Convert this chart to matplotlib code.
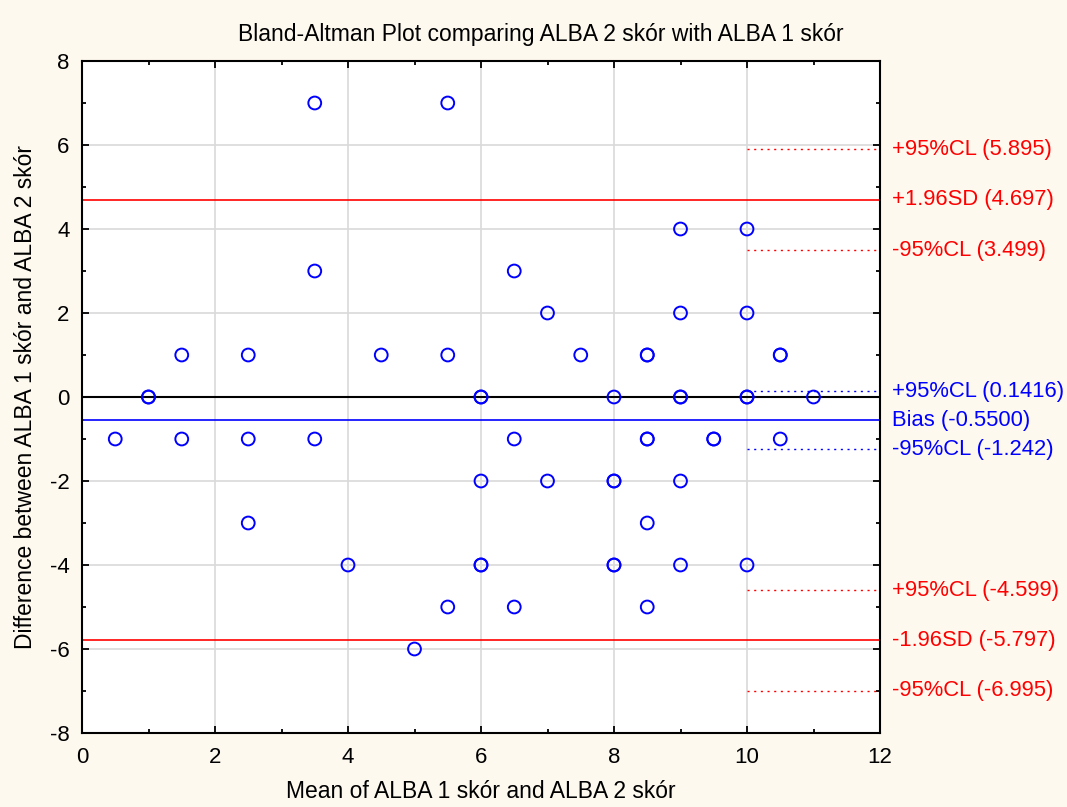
import numpy as np
import matplotlib
matplotlib.use('Agg')
from matplotlib import pyplot as plt
from matplotlib.ticker import MultipleLocator

# data (repeated points are drawn twice, like in the original)
mean_vals = [0.5, 1, 1, 1.5, 1.5, 2.5, 2.5, 2.5, 3.5, 3.5, 3.5, 4, 4.5, 5, 5.5, 5.5, 5.5,
             6, 6, 6, 6, 6, 6.5, 6.5, 6.5, 7, 7, 7.5, 8, 8, 8, 8, 8, 8.5, 8.5, 8.5, 8.5,
             8.5, 8.5, 9, 9, 9, 9, 9, 9, 9.5, 9.5, 10, 10, 10, 10, 10, 10.5, 10.5, 10.5, 11]
diff_vals = [-1, 0, 0, 1, -1, 1, -1, -3, 7, 3, -1, -4, 1, -6, 7, 1, -5,
             0, 0, -2, -4, -4, 3, -1, -5, 2, -2, 1, 0, -2, -2, -4, -4, 1, 1, -1, -1,
             -3, -5, 4, 2, 0, 0, -2, -4, -1, -1, 4, 2, 0, 0, -4, 1, 1, -1, 0]

bias = -0.55
sd_hi = 4.697
sd_lo = -5.797
cl_red = [5.895, 3.499, -4.599, -6.995]
cl_blue = [0.1416, -1.242]

# right hand labels: (value, text, colour)
right_labels = [(5.895, '+95%CL (5.895)', 'red'),
                (4.697, '+1.96SD (4.697)', 'red'),
                (3.499, '-95%CL (3.499)', 'red'),
                (0.1416, '+95%CL (0.1416)', 'blue'),
                (-0.55, 'Bias (-0.5500)', 'blue'),
                (-1.242, '-95%CL (-1.242)', 'blue'),
                (-4.599, '+95%CL (-4.599)', 'red'),
                (-5.797, '-1.96SD (-5.797)', 'red'),
                (-6.995, '-95%CL (-6.995)', 'red')]

plt.rcParams['font.family'] = ['Liberation Sans', 'DejaVu Sans']
plt.rcParams['axes.unicode_minus'] = False

fig = plt.figure(figsize=[10.67, 8.07], dpi=100)
fig.patch.set_facecolor('#fdf9ef')
ax = fig.add_axes([82/1067, 1-733/807, (880-82)/1067, (733-61)/807])
ax.set_facecolor('white')

ax.grid(True, color='#d9d9d9', lw=1.2, zorder=0)
ax.axhline(0, color='black', lw=1.5, zorder=2)
ax.axhline(bias, color='blue', lw=1.2, zorder=2)
ax.axhline(sd_hi, color='red', lw=1.2, zorder=2)
ax.axhline(sd_lo, color='red', lw=1.2, zorder=2)
for v in cl_red:
    ax.plot([10, 12], [v, v], color='red', ls=(0, (1.5, 3.3)), lw=1.0, zorder=2)
for v in cl_blue:
    ax.plot([10, 12], [v, v], color='blue', ls=(0, (1.5, 3.3)), lw=1.0, zorder=2)

ax.scatter(mean_vals, diff_vals, s=85, facecolors='none', edgecolors='blue', lw=1.4, zorder=3)

ax.set_xlim(0, 12)
ax.set_ylim(-8, 8)
ax.xaxis.set_major_locator(MultipleLocator(2))
ax.xaxis.set_minor_locator(MultipleLocator(1))
ax.yaxis.set_major_locator(MultipleLocator(2))
ax.yaxis.set_minor_locator(MultipleLocator(1))
ax.tick_params(which='both', direction='in', top=True, right=True)
ax.tick_params(axis='x', which='major', pad=10, labelsize=16)
ax.tick_params(axis='y', which='major', pad=9, labelsize=16)
ax.tick_params(which='major', length=5, width=1.3)
ax.tick_params(which='minor', length=3, width=1.3)
for s in ax.spines.values():
    s.set_linewidth(1.5)

for v, txt, c in right_labels:
    ax.text(12.18, v, txt, color=c, fontsize=15.8, va='center', clip_on=False)

fig.text(541/1067, 1-41/807, 'Bland-Altman Plot comparing ALBA 2 skór with ALBA 1 skór',
         fontsize=16.5, ha='center', va='baseline')
ax.set_xlabel('Mean of ALBA 1 skór and ALBA 2 skór', fontsize=16.5, labelpad=9)
ax.set_ylabel('Difference between ALBA 1 skór and ALBA 2 skór', fontsize=16.5, labelpad=9)

fig.savefig('out.png', dpi=100, facecolor=fig.get_facecolor())
